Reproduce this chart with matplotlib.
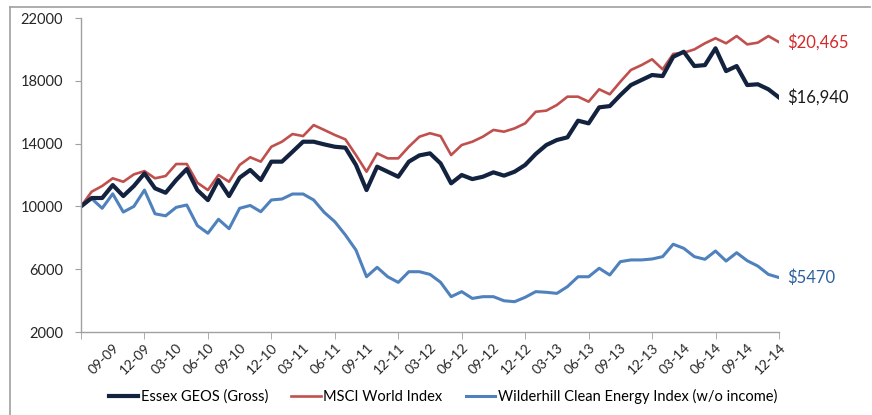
import matplotlib.pyplot as plt
from matplotlib.lines import Line2D

plt.rcParams['font.family'] = ['Lato', 'DejaVu Sans']

# monthly points, 06-09 .. 12-14
months = [f"{m:02d}-{y:02d}" for y in range(9, 15) for m in range(1, 13)][5:]

essex = [10000, 10535, 10535, 11360, 10660, 11300, 12100, 11150, 10870, 11680,
         12380, 11040, 10400, 11680, 10660, 11830, 12320, 11680, 12850, 12850,
         13480, 14120, 14120, 13950, 13800, 13740, 12640, 11040, 12530, 12210,
         11890, 12850, 13250, 13380, 12740, 11470, 12000, 11740, 11890, 12170,
         11960, 12210, 12640, 13340, 13910, 14230, 14400, 15460, 15290, 16310,
         16390, 17090, 17730, 18050, 18370, 18300, 19530, 19850, 18940, 19000,
         20070, 18620, 18940, 17730, 17780, 17460, 16940]

msci = [10000, 10935, 11300, 11790, 11570, 12040, 12250, 11790, 11935, 12700,
        12700, 11510, 11040, 12000, 11570, 12640, 13130, 12850, 13800, 14120,
        14610, 14480, 15180, 14870, 14550, 14270, 13270, 12210, 13380, 13060,
        13060, 13800, 14440, 14660, 14480, 13270, 13910, 14120, 14440, 14870,
        14760, 14970, 15290, 16030, 16100, 16460, 16990, 16990, 16670, 17460,
        17140, 17940, 18690, 19000, 19370, 18730, 19710, 19790, 20000, 20390,
        20710, 20390, 20850, 20320, 20430, 20850, 20465]

wilder = [10000, 10500, 9880, 10800, 9640, 10000, 11040, 9530, 9400, 9940,
          10090, 8780, 8290, 9180, 8580, 9880, 10060, 9660, 10410, 10470,
          10790, 10790, 10410, 9620, 9025, 8180, 7220, 5520, 6120, 5520,
          5160, 5840, 5840, 5670, 5170, 4250, 4570, 4140, 4250, 4250,
          3990, 3930, 4210, 4570, 4530, 4460, 4890, 5520, 5520, 6060,
          5630, 6480, 6590, 6590, 6650, 6800, 7590, 7330, 6800, 6630,
          7160, 6520, 7050, 6540, 6200, 5670, 5470]

series_names = ["Essex GEOS (Gross)", "MSCI World Index",
                "Wilderhill Clean Energy Index (w/o income)"]
end_labels = ["$16,940", "$20,465", "$5470"]

navy = '#13233f'
red = '#c0504d'
blue = '#4f81bd'

fig = plt.figure(figsize=(8.72, 4.15), dpi=100)
ax = fig.add_axes([0.0929, 0.2, 0.8004, 0.7566])

x = list(range(len(months)))
ax.plot(x, msci, color=red, lw=1.9, solid_joinstyle='round')
ax.plot(x, wilder, color=blue, lw=2.2, solid_joinstyle='round')
ax.plot(x, essex, color=navy, lw=3.0, solid_joinstyle='round')

ax.set_xlim(0, len(months) - 1)
ax.set_ylim(2000, 22000)
ax.set_yticks(range(2000, 22001, 4000))
ax.tick_params(axis='y', length=4, color='#a0a0a0', labelsize=10.5,
               labelcolor='#262626', pad=9)

# labels every 3 months, tick marks every 6 months
ax.xaxis.remove_overlapping_locs = False
ax.set_xticks(x[3::3])
ax.set_xticklabels(months[3::3], rotation=45, ha='right',
                   rotation_mode='anchor', fontsize=10, color='#262626')
ax.tick_params(axis='x', which='major', length=0, pad=7)
ax.set_xticks(x[::6], minor=True)
ax.tick_params(axis='x', which='minor', length=5, color='#a0a0a0')

for s in ['top', 'right']:
    ax.spines[s].set_visible(False)
for s in ['left', 'bottom']:
    ax.spines[s].set_color('#a0a0a0')
    ax.spines[s].set_linewidth(1.0)

# end value labels
ax.annotate(end_labels[1], (x[-1], msci[-1]), xytext=(6, 0),
            textcoords='offset points', va='center', fontsize=12, color='#d42a2a')
ax.annotate(end_labels[0], (x[-1], essex[-1]), xytext=(6, 0),
            textcoords='offset points', va='center', fontsize=12, color='#1a1a1a')
ax.annotate(end_labels[2], (x[-1], wilder[-1]), xytext=(6, 0),
            textcoords='offset points', va='center', fontsize=12, color='#2e5f9e')

handles = [Line2D([], [], color=navy, lw=3.0),
           Line2D([], [], color=red, lw=1.9),
           Line2D([], [], color=blue, lw=2.2)]
fig.legend(handles, series_names, loc='center', bbox_to_anchor=(0.508, 0.045),
           ncol=3, frameon=False, fontsize=10.5, handlelength=2.0,
           handletextpad=0.2, columnspacing=1.6)

# outer frame lines (top and left)
fig.add_artist(Line2D([10 / 872, 870 / 872], [1 - 7 / 415, 1 - 7 / 415],
                      color='#a0a0a0', lw=1.2))
fig.add_artist(Line2D([10 / 872, 10 / 872], [1 - 7 / 415, 0],
                      color='#a0a0a0', lw=1.2))

fig.savefig('out.png', dpi=100)
